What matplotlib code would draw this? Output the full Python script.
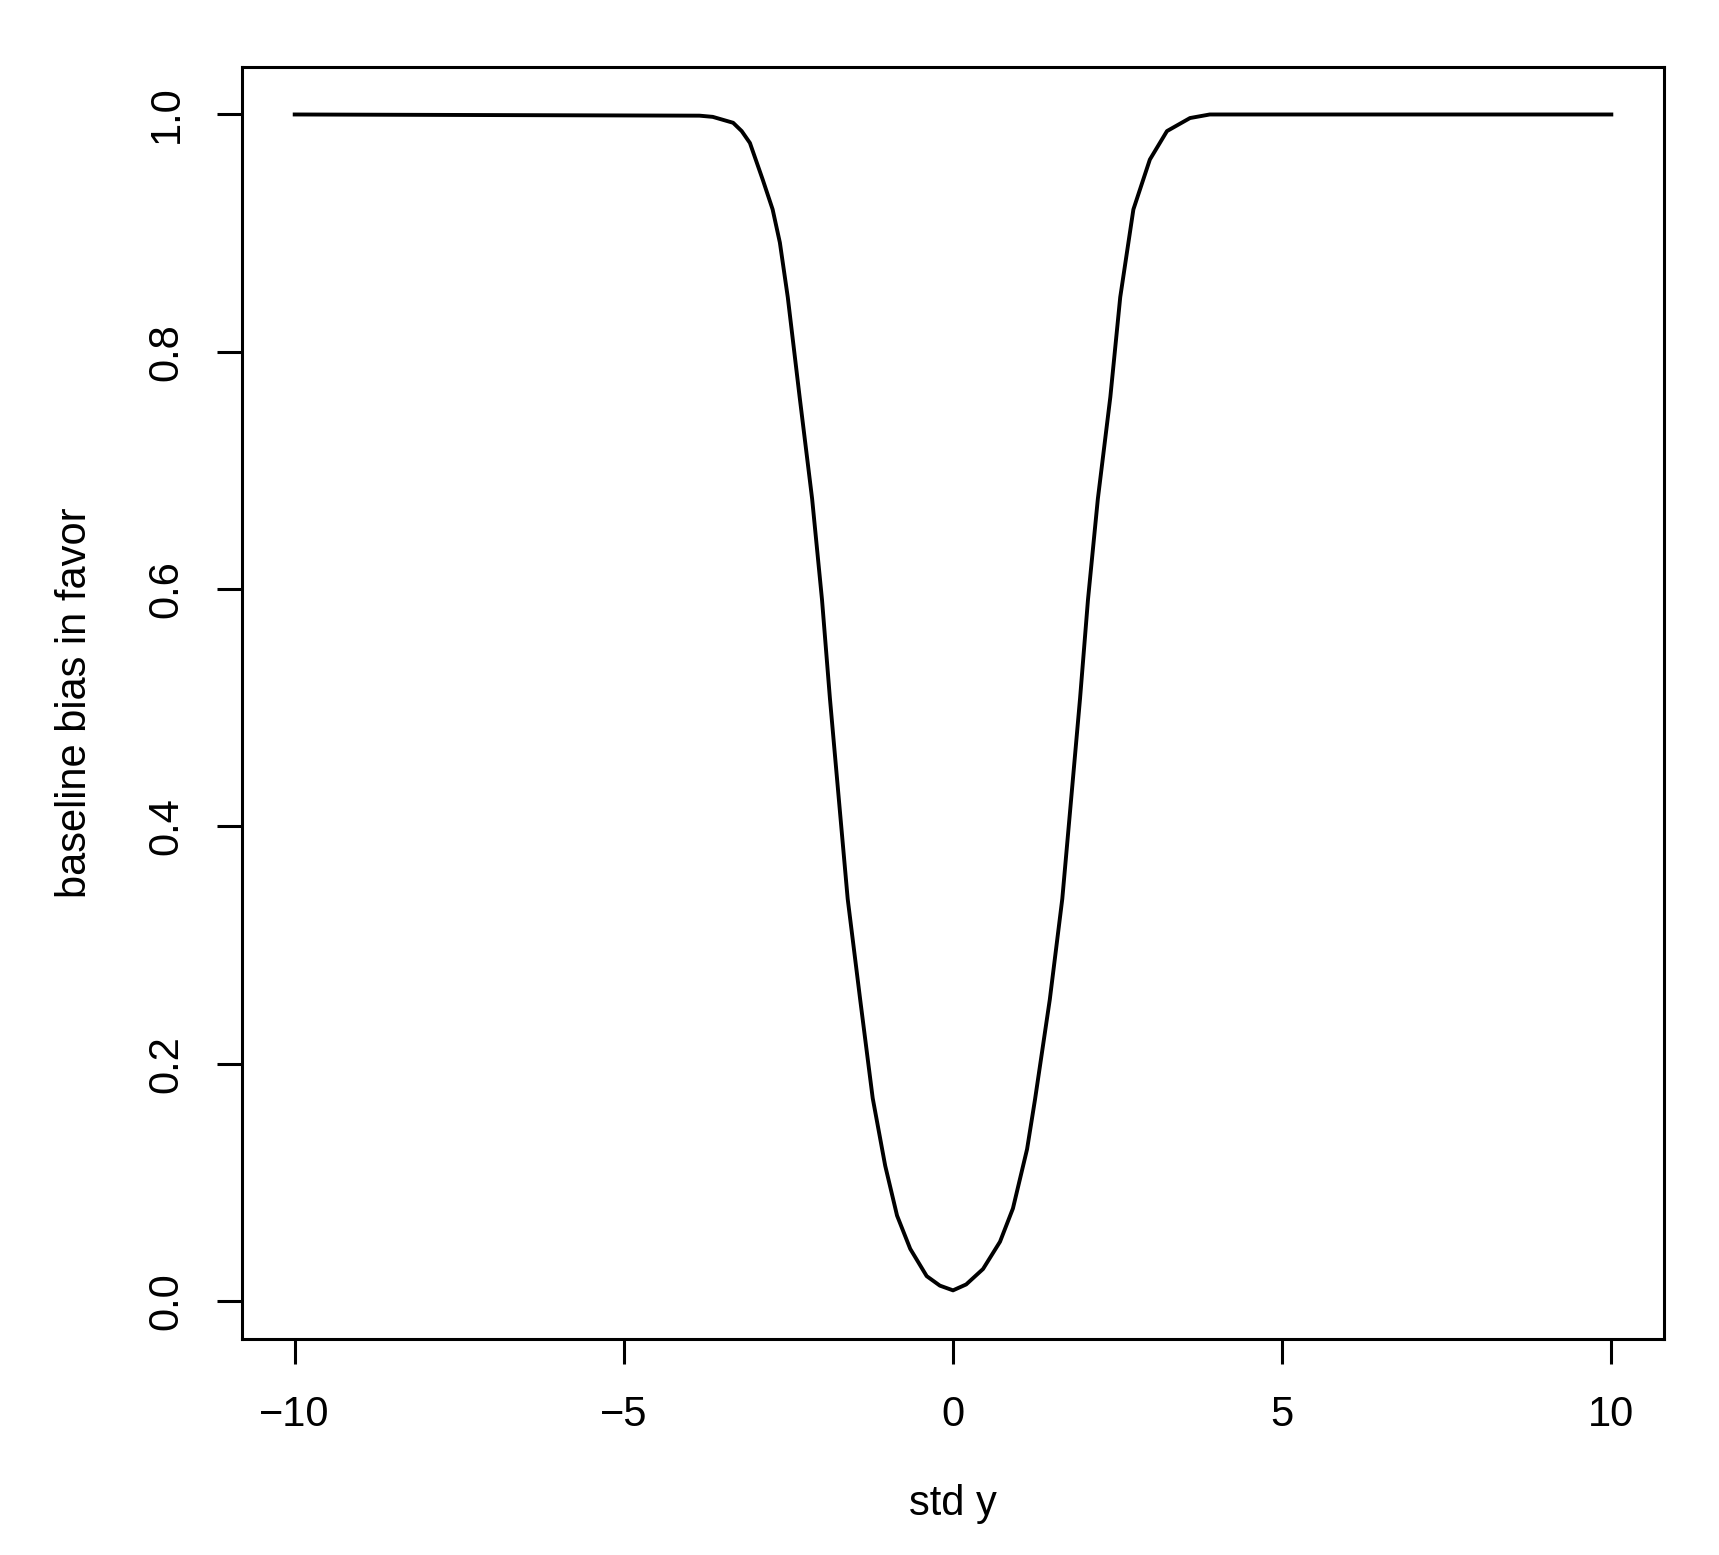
import matplotlib
matplotlib.use("Agg")
import matplotlib.pyplot as plt

plt.rcParams['font.family'] = ['Liberation Sans', 'DejaVu Sans']

# values
std_y = [-10.0, -3.85, -3.65, -3.34, -3.21, -3.085, -2.89, -2.74, -2.63, -2.51,
         -2.33, -2.14, -1.99, -1.87, -1.72, -1.60, -1.41, -1.22, -1.03, -0.85,
         -0.65, -0.40, -0.20, 0.0, 0.20, 0.456, 0.714, 0.91, 1.125, 1.246,
         1.47, 1.66, 1.78, 1.93, 2.05, 2.20, 2.39, 2.54, 2.74, 2.99,
         3.25, 3.60, 3.90, 10.0]
bias = [1.0, 0.999, 0.998, 0.993, 0.986, 0.976, 0.945, 0.920, 0.892, 0.846,
        0.762, 0.676, 0.591, 0.508, 0.414, 0.339, 0.254, 0.171, 0.114, 0.072,
        0.044, 0.021, 0.013, 0.009, 0.014, 0.027, 0.050, 0.078, 0.128, 0.170,
        0.254, 0.339, 0.414, 0.508, 0.591, 0.676, 0.762, 0.846, 0.920, 0.962,
        0.986, 0.997, 1.0, 1.0]

x_ticks = [-10, -5, 0, 5, 10]
y_ticks = [0.0, 0.2, 0.4, 0.6, 0.8, 1.0]

fig = plt.figure(figsize=(17.19, 15.55), dpi=100)
ax = fig.add_axes([0.1408, 0.1389, 0.968 - 0.1408, 0.9569 - 0.1389])

ax.plot(std_y, bias, color='black', linewidth=2.8, solid_joinstyle='round')

ax.set_xlim(-10.8, 10.8)
ax.set_ylim(-0.032, 1.040)
ax.set_xticks(x_ticks)
ax.set_xticklabels(['\u221210', '\u22125', '0', '5', '10'])
ax.set_yticks(y_ticks)
ax.set_yticklabels([f'{t:.1f}' for t in y_ticks], rotation=90, va='center')

for s in ax.spines.values():
    s.set_linewidth(2.2)
ax.tick_params(direction='out', length=18, width=2.2, labelsize=30, pad=22)

ax.set_xlabel('std y', fontsize=30)
ax.set_ylabel('baseline bias in favor', fontsize=30)
ax.xaxis.label.set_va('center')
ax.yaxis.label.set_va('center')
ax.xaxis.set_label_coords(0.5, -0.1297)
ax.yaxis.set_label_coords(-0.1174, 0.5)

fig.savefig('out.png', dpi=100)
